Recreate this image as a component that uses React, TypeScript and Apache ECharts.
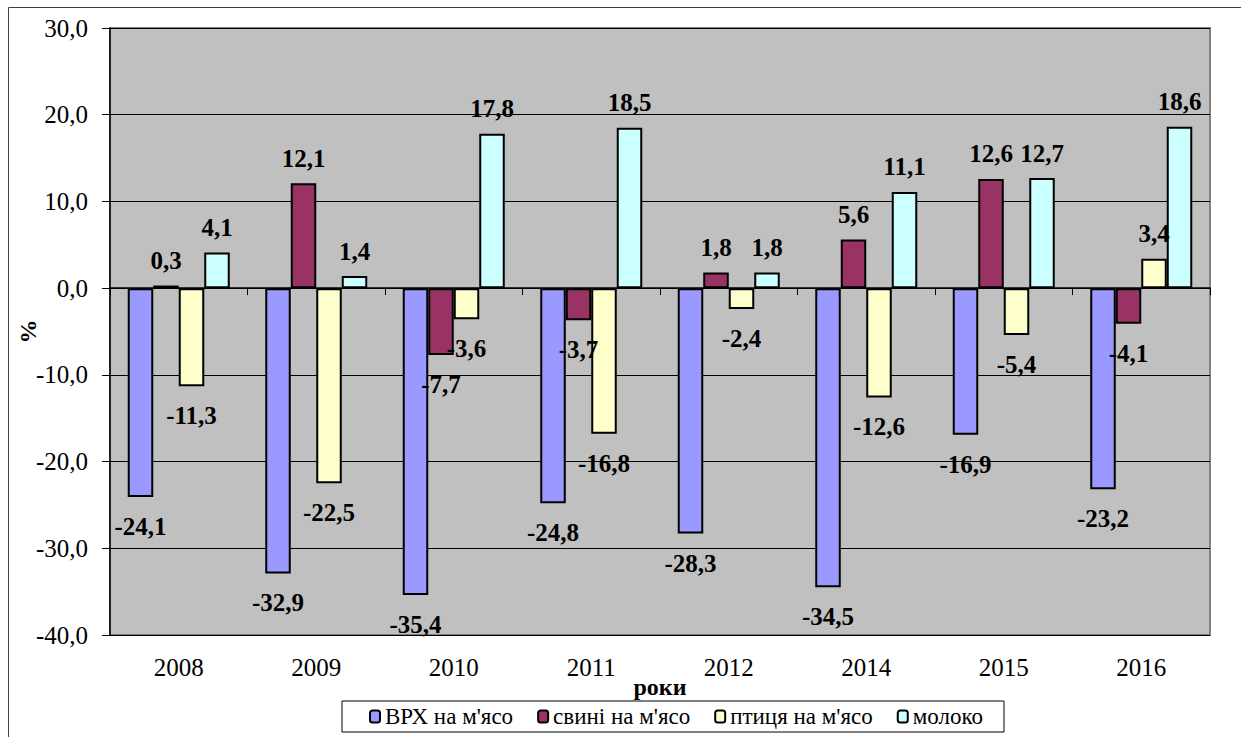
import React, { useEffect, useRef } from "react";
import * as echarts from "echarts";

const years = ["2008", "2009", "2010", "2011", "2012", "2014", "2015", "2016"];
const seriesNames = ["ВРХ на м'ясо", "свині на м'ясо", "птиця на м'ясо", "молоко"];
const cattle = [-24.1, -32.9, -35.4, -24.8, -28.3, -34.5, -16.9, -23.2];
const pigs = [0.3, 12.1, -7.7, -3.7, 1.8, 5.6, 12.6, -4.1];
const poultry = [-11.3, -22.5, -3.6, -16.8, -2.4, -12.6, -5.4, 3.4];
const milk = [4.1, 1.4, 17.8, 18.5, 1.8, 11.1, 12.7, 18.6];
const yMin = -40;
const yMax = 30;
const yStep = 10;

const colors = ["#9999ff", "#993366", "#ffffcc", "#ccffff"];
const FONT = "Liberation Serif";

const fmt = (v: number) => v.toFixed(1).replace(".", ",");

export default function App() {
  const ref = useRef<HTMLDivElement>(null);
  useEffect(() => {
    if (!ref.current) return;
    const chart = echarts.init(ref.current, undefined, { renderer: "svg" });
    const allValues = [cattle, pigs, poultry, milk];
    const series = allValues.map((vals, i) => ({
      name: seriesNames[i],
      type: "bar",
      xAxisIndex: 0,
      barWidth: 25.5,
      barGap: "0%",
      itemStyle: { color: colors[i], borderColor: "#000", borderWidth: 2 },
      label: {
        show: true,
        formatter: (p: any) => fmt(p.value),
        fontFamily: FONT,
        fontWeight: "bold",
        fontSize: 25,
        lineHeight: 25,
        color: "#000",
      },
      data: vals.map((v) => ({
        value: v,
        label: { position: v < 0 ? "bottom" : "top", distance: v < 0 ? 17 : 12.5 },
      })),
    }));
    chart.setOption({
      animation: false,
      backgroundColor: "#fff",
      textStyle: { fontFamily: FONT },
      grid: {
        left: 110,
        right: 31,
        top: 28,
        bottom: 102,
        containLabel: false,
        outerBoundsMode: "none",
        show: true,
        backgroundColor: "#c0c0c0",
        borderColor: "#808080",
        borderWidth: 2,
      },
      legend: {
        left: 342,
        top: 701,
        data: seriesNames,
        icon: "roundRect",
        itemWidth: 10,
        itemHeight: 12,
        itemGap: 24,
        padding: [4, 21, 4, 27],
        backgroundColor: "#fff",
        borderColor: "#000",
        borderWidth: 1,
        z: 10,
        textStyle: { fontFamily: FONT, fontSize: 23, color: "#000" },
      },
      xAxis: [
        {
          type: "category",
          data: years,
          position: "bottom",
          axisLine: { onZero: true, lineStyle: { color: "#000", width: 1.5 } },
          axisTick: { show: true, inside: false, length: 7, lineStyle: { color: "#000", width: 1 } },
          axisLabel: { show: false },
          splitLine: { show: false },
        },
        {
          type: "category",
          data: years,
          position: "bottom",
          axisLine: { onZero: false, show: false },
          axisTick: { show: false },
          axisLabel: {
            show: true,
            margin: 20,
            fontFamily: FONT,
            fontSize: 25,
            lineHeight: 25,
            color: "#000",
          },
          name: "роки",
          nameLocation: "middle",
          nameGap: 40,
          nameMoveOverlap: false,
          nameTextStyle: {
            fontFamily: FONT,
            fontWeight: "bold",
            fontSize: 24,
            color: "#000",
          },
          splitLine: { show: false },
        },
      ],
      yAxis: {
        type: "value",
        min: yMin,
        max: yMax,
        interval: yStep,
        axisLine: { show: true, onZero: false, lineStyle: { color: "#000", width: 1.5 } },
        axisTick: { show: true, inside: false, length: 8, lineStyle: { color: "#000", width: 1 } },
        axisLabel: {
          margin: 22,
          formatter: (v: number) => fmt(v),
          fontFamily: FONT,
          fontSize: 25,
          color: "#000",
        },
        splitLine: { show: true, lineStyle: { color: "#000", width: 1 } },
        name: "%",
        nameLocation: "middle",
        nameGap: 70,
        nameMoveOverlap: false,
        nameRotate: 90,
        nameTextStyle: {
          fontFamily: FONT,
          fontWeight: "bold",
          fontSize: 24,
          color: "#000",
        },
      },
      graphic: [
        {
          type: "rect",
          silent: true,
          z: 100,
          shape: { x: 8.5, y: 7.5, width: 1400, height: 900 },
          style: { fill: "none", stroke: "#404040", lineWidth: 1 },
        },
      ],
      series,
    });
    return () => chart.dispose();
  }, []);
  return (
    <div
      ref={ref}
      style={{ position: "absolute", left: 0, top: 0, width: 1241, height: 737 }}
    />
  );
}
